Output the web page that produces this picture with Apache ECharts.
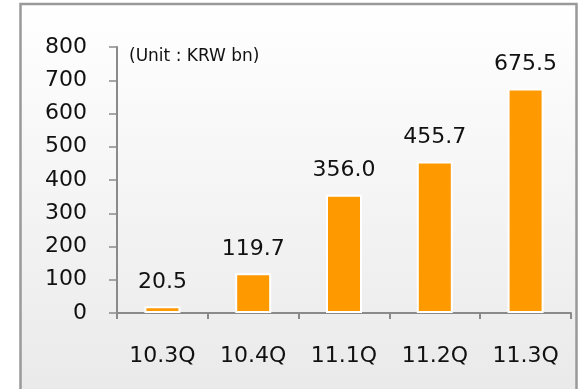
<!DOCTYPE html>
<html>
<head>
<meta charset="utf-8">
<script src="https://cdn.jsdelivr.net/npm/echarts@6/dist/echarts.min.js"></script>
<style>
html,body{margin:0;padding:0;background:#fff;}
#chart{width:582px;height:389px;}
</style>
</head>
<body>
<div id="chart"></div>
<script>
var categories = ['10.3Q', '10.4Q', '11.1Q', '11.2Q', '11.3Q'];
var values = [20.5, 119.7, 356.0, 455.7, 675.5];
var unitText = '(Unit : KRW bn)';

var font = 'DejaVu Sans, Verdana, sans-serif';
var myChart = echarts.init(document.getElementById('chart'));
var option = {
    animation: false,
    graphic: [
        {
            type: 'rect',
            z: -10,
            shape: {x: 20.5, y: 4, width: 556, height: 400},
            style: {
                fill: new echarts.graphic.LinearGradient(0, 0, 0, 1, [
                    {offset: 0, color: '#ffffff'},
                    {offset: 1, color: '#e9e9e9'}
                ]),
                stroke: '#999999',
                lineWidth: 2.5
            }
        },
        {
            type: 'text',
            left: 129,
            top: 48,
            style: {text: unitText, font: '17px ' + font, fill: '#111'}
        }
    ],
    grid: {left: 117, right: 11, top: 47, bottom: 76},
    xAxis: {
        type: 'category',
        data: categories,
        axisLine: {lineStyle: {color: '#8a8a8a', width: 2}},
        axisTick: {show: true, length: 6, lineStyle: {color: '#8a8a8a', width: 2}},
        axisLabel: {margin: 32, fontSize: 22, fontFamily: font, color: '#111'}
    },
    yAxis: {
        type: 'value',
        min: 0,
        max: 800,
        interval: 100,
        splitLine: {show: false},
        axisLine: {show: true, lineStyle: {color: '#8a8a8a', width: 2}},
        axisTick: {show: true, length: 8, lineStyle: {color: '#8a8a8a', width: 1.5}},
        axisLabel: {margin: 30, fontSize: 22, fontFamily: font, color: '#111'}
    },
    series: [
        {
            type: 'bar',
            data: values,
            barWidth: 36,
            itemStyle: {color: '#ff9900', borderColor: '#ffffff', borderWidth: 2},
            label: {
                show: true,
                position: 'top',
                distance: 13,
                fontSize: 22,
                fontFamily: font,
                color: '#111',
                formatter: function (p) { return p.value.toFixed(1); }
            }
        }
    ]
};
myChart.setOption(option);
</script>
</body>
</html>
